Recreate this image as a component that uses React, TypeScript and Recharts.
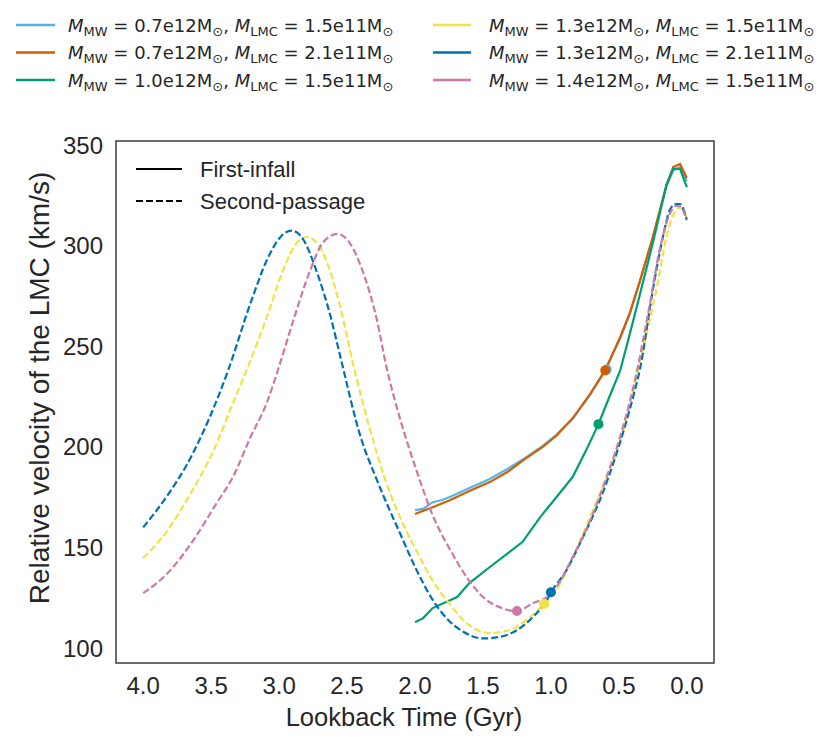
import React from 'react';
import { ComposedChart, Line, Scatter, XAxis, YAxis, ReferenceArea } from 'recharts';

const W = 831;
const H = 741;
const FONT = '"Liberation Sans", Arial, Helvetica, sans-serif';
const MATH_FONT = '"DejaVu Sans", sans-serif';
const INK = '#262626';
const FRAME = '#3c3c3c';

const xTicks = [0, 0.5, 1, 1.5, 2, 2.5, 3, 3.5, 4];
const yTicks = [100, 150, 200, 250, 300, 350];

// MW halo mass (1e12 Msun) and LMC mass (1e11 Msun) of each run
const mwMass = ['0.7', '0.7', '1.0', '1.3', '1.3', '1.4'];
const lmcMass = ['1.5', '2.1', '1.5', '1.5', '2.1', '1.5'];

// first-infall runs (solid): lookback time in Gyr, relative velocity in km/s
const lbTime = [2.0, 1.94, 1.87, 1.8, 1.74, 1.62, 1.45, 1.32, 1.2, 1.06, 0.96, 0.84, 0.71, 0.6, 0.49, 0.42, 0.35, 0.25, 0.15, 0.1, 0.05, 0.0];
const lbVel = [168.6, 169.2, 172.5, 173.6, 175.2, 179.0, 184.0, 189.0, 194.0, 200.5, 206.0, 214.0, 226.0, 238.5, 254.0, 266.0, 281.0, 304.0, 329.5, 337.5, 339.0, 332.0];

const orTime = [2.0, 1.87, 1.74, 1.62, 1.45, 1.32, 1.2, 1.06, 0.96, 0.84, 0.71, 0.6, 0.49, 0.42, 0.35, 0.25, 0.15, 0.1, 0.05, 0.0];
const orVel = [166.6, 170.0, 173.6, 177.5, 182.5, 187.5, 193.5, 200.0, 205.5, 214.2, 226.5, 238.0, 254.6, 266.5, 281.4, 304.3, 330.1, 339.1, 340.6, 333.6];

const grTime = [2.0, 1.94, 1.87, 1.69, 1.6, 1.43, 1.21, 1.08, 0.96, 0.84, 0.74, 0.65, 0.57, 0.49, 0.42, 0.35, 0.25, 0.15, 0.1, 0.05, 0.0];
const grVel = [112.9, 114.9, 119.9, 125.4, 132.3, 141.3, 152.7, 165.0, 175.0, 185.0, 198.4, 211.3, 224.8, 238.0, 256.0, 274.5, 301.3, 330.1, 338.1, 338.1, 329.1];

// second-passage runs (dashed)
const yeTime = [4.0, 3.82, 3.65, 3.48, 3.34, 3.24, 3.09, 2.97, 2.87, 2.8, 2.72, 2.62, 2.55, 2.45, 2.33, 2.21, 2.09, 1.99, 1.87, 1.74, 1.62, 1.45, 1.3, 1.18, 1.05, 0.96, 0.84, 0.69, 0.57, 0.44, 0.36, 0.29, 0.22, 0.15, 0.1, 0.05, 0.0];
const yeVel = [144.7, 158.6, 177.0, 198.4, 221.7, 238.0, 264.5, 287.9, 301.3, 304.3, 301.3, 286.4, 269.5, 239.7, 208.3, 182.0, 162.0, 148.5, 133.5, 121.5, 112.4, 107.5, 109.0, 114.0, 121.9, 128.8, 145.2, 168.6, 188.5, 214.8, 238.0, 258.0, 279.4, 304.3, 315.2, 318.7, 313.7];

const blTime = [4.0, 3.82, 3.68, 3.51, 3.375, 3.21, 3.09, 2.99, 2.91, 2.82, 2.72, 2.62, 2.55, 2.4, 2.28, 2.11, 1.99, 1.87, 1.77, 1.645, 1.5, 1.375, 1.25, 1.13, 1.03, 0.995, 0.885, 0.763, 0.64, 0.517, 0.395, 0.346, 0.25, 0.176, 0.125, 0.08, 0.05, 0.0];
const blVel = [160.0, 176.0, 191.0, 214.8, 238.0, 271.5, 292.8, 304.3, 307.5, 302.8, 286.4, 264.5, 245.0, 204.9, 183.5, 157.0, 139.0, 124.0, 115.0, 108.1, 104.8, 105.6, 108.9, 115.6, 123.9, 128.0, 138.8, 155.3, 173.6, 196.8, 224.9, 238.2, 278.0, 304.3, 317.7, 320.7, 320.7, 312.7];

const pkTime = [4.0, 3.82, 3.63, 3.46, 3.34, 3.21, 3.09, 3.0, 2.89, 2.77, 2.68, 2.57, 2.48, 2.38, 2.28, 2.21, 2.11, 1.99, 1.87, 1.74, 1.62, 1.5, 1.38, 1.25, 1.13, 1.03, 0.96, 0.84, 0.71, 0.59, 0.47, 0.37, 0.28, 0.2, 0.125, 0.08, 0.05, 0.0];
const pkVel = [127.3, 137.3, 153.7, 172.0, 185.0, 204.9, 222.0, 240.0, 264.0, 287.9, 301.3, 305.8, 301.3, 286.4, 263.0, 239.7, 214.0, 188.5, 166.0, 148.7, 135.3, 125.4, 120.4, 118.4, 122.4, 125.4, 130.3, 145.2, 163.6, 185.0, 209.8, 236.7, 268.0, 297.8, 316.0, 319.7, 319.5, 312.7];

// dot marked on each run
const markTime = [0.59, 0.6, 0.65, 1.05, 1.0, 1.25];
const markVel = [238.5, 238.0, 211.3, 121.9, 127.8, 118.4];

const runs = [
  { id: 'lb', color: '#56B4E9', dashed: false, time: lbTime, vel: lbVel },
  { id: 'or', color: '#D55E00', dashed: false, time: orTime, vel: orVel },
  { id: 'gr', color: '#009E73', dashed: false, time: grTime, vel: grVel },
  { id: 'ye', color: '#F0E442', dashed: true, time: yeTime, vel: yeVel },
  { id: 'bl', color: '#0072B2', dashed: true, time: blTime, vel: blVel },
  { id: 'pk', color: '#CC79A7', dashed: true, time: pkTime, vel: pkVel },
].map((r, i) => ({
  ...r,
  mw: mwMass[i],
  lmc: lmcMass[i],
  data: r.time.map((t, j) => ({ t, v: r.vel[j] })),
  mark: [{ t: markTime[i], v: markVel[i] }],
}));

const X_DOMAIN: [number, number] = [-0.2, 4.2];
const Y_DOMAIN: [number, number] = [92.6, 352];
const DASH = '7 3';

function MassLabel({ x, y, mw, lmc }: { x: number; y: number; mw: string; lmc: string }) {
  return (
    <text x={x} y={y} fontFamily={MATH_FONT} fontSize={18} fill={INK}>
      <tspan fontStyle="italic">M</tspan>
      <tspan fontSize={13} dy={4}>MW</tspan>
      <tspan dy={-4}>{` = ${mw}e12M`}</tspan>
      <tspan fontSize={13} dy={4}>⊙</tspan>
      <tspan dy={-4}>{', '}</tspan>
      <tspan fontStyle="italic">M</tspan>
      <tspan fontSize={13} dy={4}>LMC</tspan>
      <tspan dy={-4}>{` = ${lmc}e11M`}</tspan>
      <tspan fontSize={13} dy={4}>⊙</tspan>
    </text>
  );
}

function Legends() {
  const rowY = [25, 52.5, 80];
  const cols = [
    { x1: 16, x2: 55, tx: 68 },
    { x1: 433, x2: 471, tx: 489 },
  ];
  return (
    <svg width={W} height={H} style={{ position: 'absolute', left: 0, top: 0, pointerEvents: 'none' }}>
      {runs.map((r, i) => {
        const c = cols[Math.floor(i / 3)];
        const y = rowY[i % 3];
        return (
          <g key={r.id}>
            <line x1={c.x1} x2={c.x2} y1={y} y2={y} stroke={r.color} strokeWidth={2.6} />
            <MassLabel x={c.tx} y={y + 6.5} mw={r.mw} lmc={r.lmc} />
          </g>
        );
      })}
      {/* line style key inside the axes */}
      <line x1={136} x2={182} y1={169} y2={169} stroke="#000" strokeWidth={2.2} />
      <text x={200} y={177} fontFamily={FONT} fontSize={22} fill={INK}>First-infall</text>
      <line x1={136} x2={182} y1={201} y2={201} stroke="#000" strokeWidth={2.2} strokeDasharray={DASH} />
      <text x={200} y={209} fontFamily={FONT} fontSize={22} fill={INK}>Second-passage</text>
    </svg>
  );
}

const xTitle = () => (
  <text x={404} y={726} textAnchor="middle" fontFamily={FONT} fontSize={25.5} fill={INK}>
    Lookback Time (Gyr)
  </text>
);

const yTitle = () => (
  <text
    x={39}
    y={388}
    transform="rotate(-90, 39, 388)"
    textAnchor="middle"
    dominantBaseline="central"
    fontFamily={FONT}
    fontSize={28}
    fill={INK}
  >
    Relative velocity of the LMC (km/s)
  </text>
);

export default function App() {
  const tickStyle = { fontSize: 24, fill: INK, fontFamily: FONT };
  return (
    <div style={{ position: 'absolute', left: 0, top: 0, width: W, height: H, background: '#fff' }}>
      <ComposedChart width={W} height={H} margin={{ top: 141, right: 117, bottom: 0, left: 0 }}>
        <XAxis
          dataKey="t"
          type="number"
          domain={X_DOMAIN}
          reversed
          ticks={xTicks}
          interval={0}
          tickFormatter={(v: number) => v.toFixed(1)}
          tickLine={false}
          tickMargin={8}
          tick={tickStyle}
          axisLine={false}
          height={78}
          allowDataOverflow
          label={{ content: xTitle }}
        />
        <YAxis
          type="number"
          domain={Y_DOMAIN}
          ticks={yTicks}
          interval={0}
          tickLine={false}
          tickMargin={7}
          tick={tickStyle}
          axisLine={false}
          width={116}
          allowDataOverflow
          label={{ content: yTitle }}
        />
        {runs.map((r) => (
          <Line
            key={r.id}
            data={r.data}
            dataKey="v"
            type={r.dashed ? 'monotone' : 'linear'}
            stroke={r.color}
            strokeWidth={2.2}
            strokeDasharray={r.dashed ? DASH : undefined}
            dot={false}
            activeDot={false}
            isAnimationActive={false}
          />
        ))}
        {runs.map((r) => (
          <Scatter
            key={`m-${r.id}`}
            data={r.mark}
            dataKey="v"
            fill={r.color}
            isAnimationActive={false}
            shape={(p: any) => <circle cx={p.cx} cy={p.cy} r={5} fill={r.color} />}
          />
        ))}
        {/* axes frame */}
        <ReferenceArea
          x1={X_DOMAIN[0]}
          x2={X_DOMAIN[1]}
          y1={Y_DOMAIN[0]}
          y2={Y_DOMAIN[1]}
          fill="none"
          fillOpacity={0}
          stroke={FRAME}
          strokeWidth={1.5}
          ifOverflow="visible"
        />
      </ComposedChart>
      <Legends />
    </div>
  );
}
